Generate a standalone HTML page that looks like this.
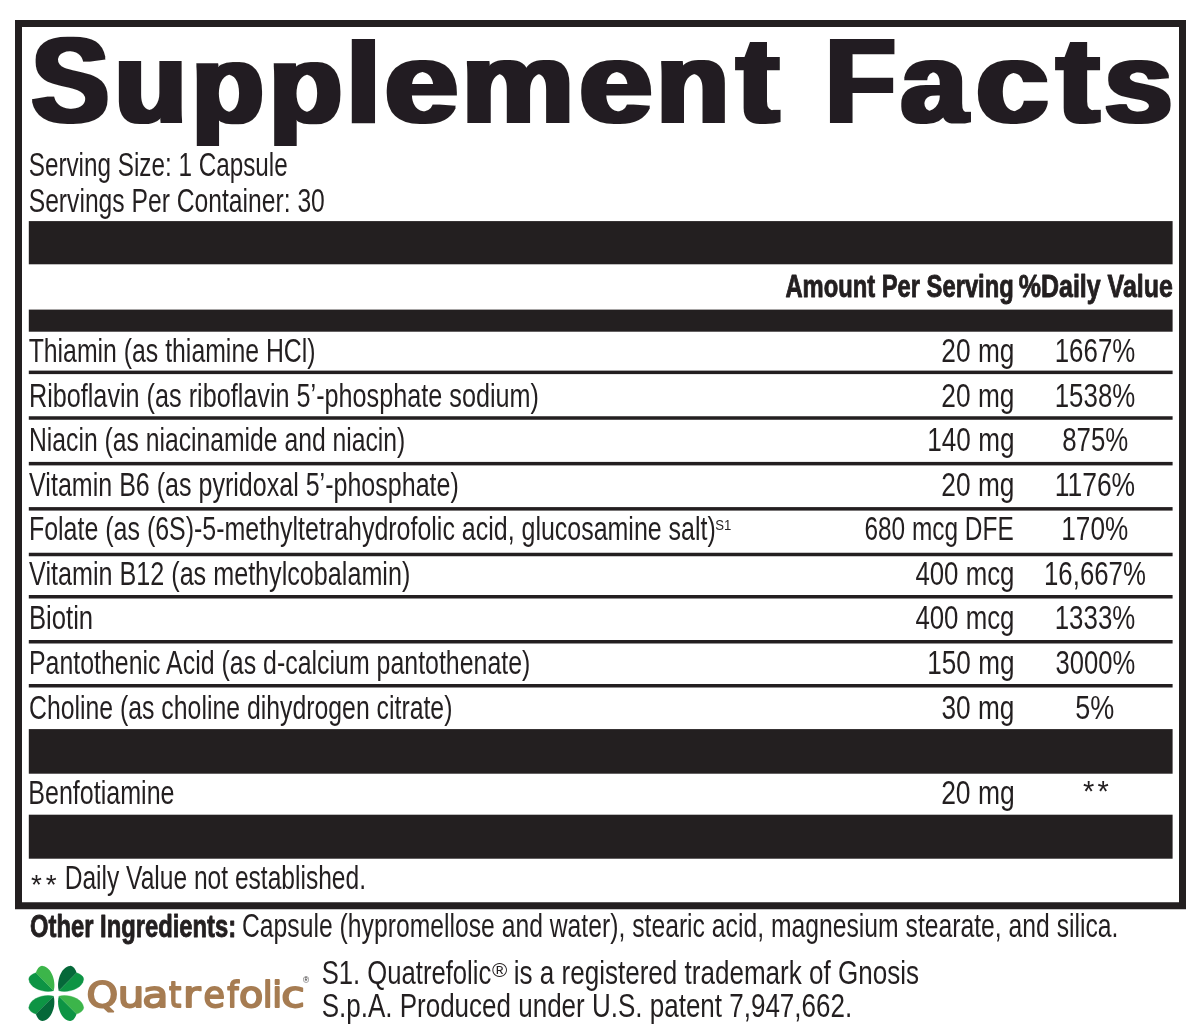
<!DOCTYPE html>
<html lang="en"><head><meta charset="utf-8"><title>Supplement Facts</title>
<style>html,body{margin:0;padding:0;background:#fff}body{width:1200px;height:1031px;overflow:hidden}svg{display:block}text{white-space:pre}</style></head><body>
<svg width="1200" height="1031" viewBox="0 0 1200 1031" font-family="'Liberation Sans', Arial, Helvetica, sans-serif" fill="#231f20">
<rect width="1200" height="1031" fill="#fff"/>
<path fill-rule="evenodd" d="M15.0 20.0H1186.0V909.2H15.0Z M22.0 27.0V902.2H1179.0V27.0Z"/>
<rect x="28.8" y="221.1" width="1143.8" height="43.2"/>
<rect x="28.8" y="309.6" width="1143.8" height="22.1"/>
<rect x="28.8" y="729.1" width="1143.8" height="44.6"/>
<rect x="28.8" y="814.7" width="1143.8" height="44.0"/>
<rect x="28.8" y="370.6" width="1143.8" height="3.5"/>
<rect x="28.8" y="416.25" width="1143.8" height="3.5"/>
<rect x="28.8" y="461.9" width="1143.8" height="3.5"/>
<rect x="28.8" y="507.1" width="1143.8" height="3.5"/>
<rect x="28.8" y="552.75" width="1143.8" height="3.5"/>
<rect x="28.8" y="595.0" width="1143.8" height="3.5"/>
<rect x="28.8" y="640.0" width="1143.8" height="3.5"/>
<rect x="28.8" y="684.0" width="1143.8" height="3.5"/>
<filter id="hv" x="-2%" y="-10%" width="104%" height="130%"><feMorphology operator="dilate" radius="3.0 1.0"/></filter><text x="31.40 114.40 191.43 268.80 345.97 384.55 461.64 579.07 656.37 736.44 776.44 825.29 900.75 975.87 1056.43 1104.18" y="121.8" font-size="112.5" font-weight="700" filter="url(#hv)"><tspan font-size="120.8" textLength="77.65" lengthAdjust="spacingAndGlyphs">S</tspan><tspan textLength="72.42" lengthAdjust="spacingAndGlyphs">u</tspan><tspan font-size="110.0" textLength="72.43" lengthAdjust="spacingAndGlyphs">p</tspan><tspan font-size="110.0" textLength="73.64" lengthAdjust="spacingAndGlyphs">p</tspan><tspan textLength="34.93" lengthAdjust="spacingAndGlyphs">l</tspan><tspan textLength="73.99" lengthAdjust="spacingAndGlyphs">e</tspan><tspan textLength="112.72" lengthAdjust="spacingAndGlyphs">m</tspan><tspan textLength="73.71" lengthAdjust="spacingAndGlyphs">e</tspan><tspan textLength="73.05" lengthAdjust="spacingAndGlyphs">n</tspan><tspan font-size="120.0" textLength="42.62" lengthAdjust="spacingAndGlyphs">t</tspan> <tspan font-size="117.8" textLength="70.44" lengthAdjust="spacingAndGlyphs">F</tspan><tspan textLength="66.49" lengthAdjust="spacingAndGlyphs">a</tspan><tspan textLength="72.97" lengthAdjust="spacingAndGlyphs">c</tspan><tspan font-size="120.0" textLength="42.89" lengthAdjust="spacingAndGlyphs">t</tspan><tspan textLength="68.36" lengthAdjust="spacingAndGlyphs">s</tspan></text>
<text transform="translate(28.72 176.0) scale(0.7471 1)" font-size="32.5">Serving Size: 1 Capsule</text>
<text transform="translate(28.70 211.7) scale(0.7591 1)" font-size="32.5">Servings Per Container: 30</text>
<text transform="translate(785.41 296.5) scale(0.7424 1)" font-size="32.0" font-weight="700" stroke="#231f20" stroke-width="0.9" stroke-linejoin="round">Amount Per Serving</text>
<text transform="translate(1018.74 296.5) scale(0.7810 1)" font-size="32.0" font-weight="700" stroke="#231f20" stroke-width="0.9" stroke-linejoin="round">%Daily Value</text>
<text transform="translate(28.64 361.8) scale(0.7640 1)" font-size="32.5">Thiamin (as thiamine HCl)</text>
<text transform="translate(28.93 406.9) scale(0.7758 1)" font-size="32.5">Riboflavin (as riboflavin 5’-phosphate sodium)</text>
<text transform="translate(28.97 451.0) scale(0.7607 1)" font-size="32.5">Niacin (as niacinamide and niacin)</text>
<text transform="translate(29.12 496.0) scale(0.7711 1)" font-size="32.5">Vitamin B6 (as pyridoxal 5’-phosphate)</text>
<text transform="translate(28.94 539.6) scale(0.7686 1)" font-size="32.5">Folate (as (6S)-5-methyltetrahydrofolic acid, glucosamine salt)</text>
<text transform="translate(715.23 530.0) scale(0.8486 1)" font-size="15.5">S1</text>
<text transform="translate(29.12 584.6) scale(0.7744 1)" font-size="32.5">Vitamin B12 (as methylcobalamin)</text>
<text transform="translate(28.89 628.75) scale(0.7904 1)" font-size="32.5">Biotin</text>
<text transform="translate(28.95 673.75) scale(0.7669 1)" font-size="32.5">Pantothenic Acid (as d-calcium pantothenate)</text>
<text transform="translate(28.97 718.5) scale(0.7638 1)" font-size="32.5">Choline (as choline dihydrogen citrate)</text>
<text transform="translate(28.24 803.5) scale(0.7716 1)" font-size="32.5">Benfotiamine</text>
<text transform="translate(941.37 361.8) scale(0.8087 1)" font-size="32.5">20 mg</text>
<text transform="translate(941.37 406.9) scale(0.8087 1)" font-size="32.5">20 mg</text>
<text transform="translate(927.31 451.0) scale(0.8041 1)" font-size="32.5">140 mg</text>
<text transform="translate(941.37 496.0) scale(0.8087 1)" font-size="32.5">20 mg</text>
<text transform="translate(864.42 539.6) scale(0.7516 1)" font-size="32.5">680 mcg DFE</text>
<text transform="translate(915.40 584.6) scale(0.7946 1)" font-size="32.5">400 mcg</text>
<text transform="translate(915.40 628.75) scale(0.7946 1)" font-size="32.5">400 mcg</text>
<text transform="translate(927.31 673.75) scale(0.8041 1)" font-size="32.5">150 mg</text>
<text transform="translate(941.52 718.5) scale(0.8070 1)" font-size="32.5">30 mg</text>
<text transform="translate(941.16 803.5) scale(0.8145 1)" font-size="32.5">20 mg</text>
<text transform="translate(1054.73 361.8) scale(0.7963 1)" font-size="32.5">1667%</text>
<text transform="translate(1054.73 406.9) scale(0.7963 1)" font-size="32.5">1538%</text>
<text transform="translate(1062.13 451.0) scale(0.7954 1)" font-size="32.5">875%</text>
<text transform="translate(1054.68 496.0) scale(0.8151 1)" font-size="32.5">1176%</text>
<text transform="translate(1061.30 539.6) scale(0.8055 1)" font-size="32.5">170%</text>
<text transform="translate(1044.03 584.6) scale(0.7938 1)" font-size="32.5">16,667%</text>
<text transform="translate(1054.73 628.75) scale(0.7963 1)" font-size="32.5">1333%</text>
<text transform="translate(1055.55 673.75) scale(0.7881 1)" font-size="32.5">3000%</text>
<text transform="translate(1075.31 718.5) scale(0.8317 1)" font-size="32.5">5%</text>
<text transform="translate(64.68 889.3) scale(0.7563 1)" font-size="32.5">Daily Value not established.</text>
<text transform="translate(30.03 937.3) scale(0.7432 1)" font-size="32.0" font-weight="700" stroke="#231f20" stroke-width="0.9" stroke-linejoin="round">Other Ingredients:</text>
<text transform="translate(242.02 937.3) scale(0.7610 1)" font-size="32.5">Capsule (hypromellose and water), stearic acid, magnesium stearate, and silica.</text>
<text transform="translate(321.65 983.5) scale(0.7897 1)" font-size="32.5">S1. Quatrefolic</text>
<text transform="translate(513.74 983.5) scale(0.8017 1)" font-size="32.5">is a registered trademark of Gnosis</text>
<text transform="translate(321.63 1017.4) scale(0.8005 1)" font-size="32.5">S.p.A. Produced under U.S. patent 7,947,662.</text>
<text x="31.1 45.7" y="893.5" font-size="28">**</text>
<text x="1083.1 1097.4" y="800.6" font-size="29">**</text>
<text x="492.1" y="977.0" font-size="20.75">®</text>
<g transform="translate(20 955) scale(0.075)"><g transform=""><path d="M448,475 C345,511 131,455 118,327 C115,282 168,252 212,238 Z" fill="#0d9444" stroke="#0d9444" stroke-width="5"/><path d="M448,475 C484,372 428,158 300,145 C255,142 225,195 212,238 Z" fill="#3cb54a"/></g><g transform="translate(966.0 0) scale(-1 1)"><path d="M448,475 C345,511 131,455 118,327 C115,282 168,252 212,238 Z" fill="#0d9444" stroke="#0d9444" stroke-width="5"/><path d="M448,475 C484,372 428,158 300,145 C255,142 225,195 212,238 Z" fill="#056839"/></g><g transform="translate(0 1025.0) scale(1 -1)"><path d="M448,475 C345,511 131,455 118,327 C115,282 168,252 212,238 Z" fill="#0d9444" stroke="#0d9444" stroke-width="5"/><path d="M448,475 C484,372 428,158 300,145 C255,142 225,195 212,238 Z" fill="#056839"/></g><g transform="translate(966.0 1025.0) scale(-1 -1)"><path d="M448,475 C345,511 131,455 118,327 C115,282 168,252 212,238 Z" fill="#3cb54a" stroke="#3cb54a" stroke-width="5"/><path d="M448,475 C484,372 428,158 300,145 C255,142 225,195 212,238 Z" fill="#0d9444"/></g></g>
<text x="86.64 117.84 142.34 169.06 183.02 203.47 227.16 239.01 262.84 272.24 281.24" y="1007.2" font-family="'DejaVu Sans', sans-serif" font-size="36" fill="#a67c52" stroke="#a67c52" stroke-width="1.8" stroke-linejoin="round" stroke-linecap="round"><tspan textLength="31.73" lengthAdjust="spacingAndGlyphs">Q</tspan><tspan textLength="26.57" lengthAdjust="spacingAndGlyphs">u</tspan><tspan textLength="26.13" lengthAdjust="spacingAndGlyphs">a</tspan><tspan textLength="12.29" lengthAdjust="spacingAndGlyphs">t</tspan><tspan textLength="17.58" lengthAdjust="spacingAndGlyphs">r</tspan><tspan textLength="21.49" lengthAdjust="spacingAndGlyphs">e</tspan><tspan textLength="11.33" lengthAdjust="spacingAndGlyphs">f</tspan><tspan textLength="24.26" lengthAdjust="spacingAndGlyphs">o</tspan><tspan textLength="9.90" lengthAdjust="spacingAndGlyphs">l</tspan><tspan textLength="9.90" lengthAdjust="spacingAndGlyphs">i</tspan><tspan textLength="23.51" lengthAdjust="spacingAndGlyphs">c</tspan></text>
<text x="302.9" y="982.9" font-size="8.4" fill="#3a3637">®</text>
</svg></body></html>
